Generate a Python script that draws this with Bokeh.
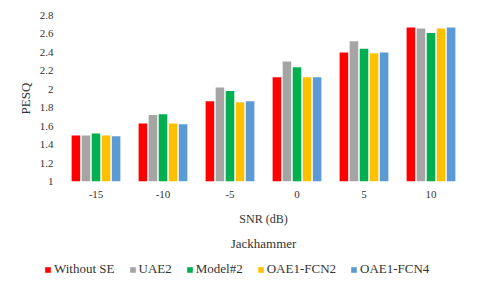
from bokeh.plotting import figure
from bokeh.layouts import column, row
from bokeh.models import FactorRange, Range1d, FixedTicker, CustomJSTickFormatter, Legend, LegendItem, Label, ColumnDataSource
from bokeh.transform import dodge
from bokeh.embed import file_html
from bokeh.resources import INLINE

snr = ["-15", "-10", "-5", "0", "5", "10"]
without_se = [1.50, 1.63, 1.87, 2.13, 2.40, 2.67]
uae2 = [1.50, 1.72, 2.02, 2.30, 2.52, 2.66]
model2 = [1.52, 1.73, 1.98, 2.24, 2.44, 2.61]
oae1_fcn2 = [1.50, 1.63, 1.86, 2.13, 2.39, 2.66]
oae1_fcn4 = [1.49, 1.62, 1.87, 2.13, 2.40, 2.67]

series_names = ["Without SE", "UAE2", "Model#2", "OAE1-FCN2", "OAE1-FCN4"]
colors = ["#FF0000", "#A5A5A5", "#00B050", "#FFC000", "#5B9BD5"]
y_ticks = [1.0, 1.2, 1.4, 1.6, 1.8, 2.0, 2.2, 2.4, 2.6, 2.8]

FONT = "Liberation Serif"
TXT = "#333333"

src = ColumnDataSource(dict(snr=snr, s0=without_se, s1=uae2, s2=model2, s3=oae1_fcn2, s4=oae1_fcn4))

p = figure(width=472, height=230, x_range=FactorRange(factors=snr, range_padding=0),
           y_range=Range1d(1, 2.8), output_backend="svg", toolbar_location=None,
           min_border_left=62, min_border_right=8, min_border_top=15, min_border_bottom=49)
p.outline_line_color = None
p.xgrid.grid_line_color = None
p.ygrid.grid_line_color = None

offsets = [-0.3, -0.15, 0.0, 0.15, 0.3]
for i, col in enumerate(colors):
    p.vbar(x=dodge("snr", offsets[i], range=p.x_range), top="s%d" % i, bottom=1,
           width=0.128, source=src, fill_color=col, line_color=None)

p.yaxis.ticker = FixedTicker(ticks=y_ticks)
p.yaxis.formatter = CustomJSTickFormatter(code="return String(Math.round(tick*10)/10);")
for ax in (p.xaxis[0], p.yaxis[0]):
    ax.axis_line_color = None
    ax.major_tick_line_color = None
    ax.minor_tick_line_color = None
    ax.major_tick_out = 0
    ax.major_tick_in = 0
    ax.minor_tick_out = 0
    ax.minor_tick_in = 0
    ax.major_label_text_font = FONT
    ax.major_label_text_font_size = "11px"
    ax.major_label_text_color = TXT
    ax.axis_label_text_font = FONT
    ax.axis_label_text_font_style = "normal"
    ax.axis_label_text_color = TXT
p.yaxis.major_label_standoff = 9
p.yaxis.axis_label = "PESQ"
p.yaxis.axis_label_text_font_size = "13px"
p.yaxis.axis_label_standoff = 4
p.xaxis.major_label_standoff = 9
p.xaxis.axis_label = "SNR (dB)"
p.xaxis.axis_label_text_font_size = "12px"
p.xaxis.axis_label_standoff = 11

# lower strip: chart title and legend
p2 = figure(width=472, height=51, x_range=Range1d(0, 472), y_range=Range1d(0, 51),
            output_backend="svg", toolbar_location=None, x_axis_type=None, y_axis_type=None,
            min_border=0)
p2.outline_line_color = None
p2.xgrid.grid_line_color = None
p2.ygrid.grid_line_color = None

dummy = ColumnDataSource(dict(x=[-1000], top=[-1000]))
legend_renderers = [p2.vbar(x="x", top="top", width=1, source=dummy, fill_color=c, line_color=None)
                    for c in colors]

p2.add_layout(Label(x=263, y=38, x_units="screen", y_units="screen", text="Jackhammer",
                    text_align="center", text_baseline="middle", text_font=FONT,
                    text_font_size="13px", text_color=TXT))

legend = Legend(items=[LegendItem(label=n, renderers=[r]) for n, r in zip(series_names, legend_renderers)],
                orientation="horizontal", location=(44, 4), glyph_width=7, glyph_height=7,
                label_standoff=3, spacing=14, padding=0, margin=0, label_height=15,
                label_text_font=FONT, label_text_font_size="13px", label_text_color=TXT,
                background_fill_alpha=0, border_line_color=None)
p2.add_layout(legend, "center")

open("out.html", "w").write(file_html(column(p, row(p2), spacing=0), INLINE))
